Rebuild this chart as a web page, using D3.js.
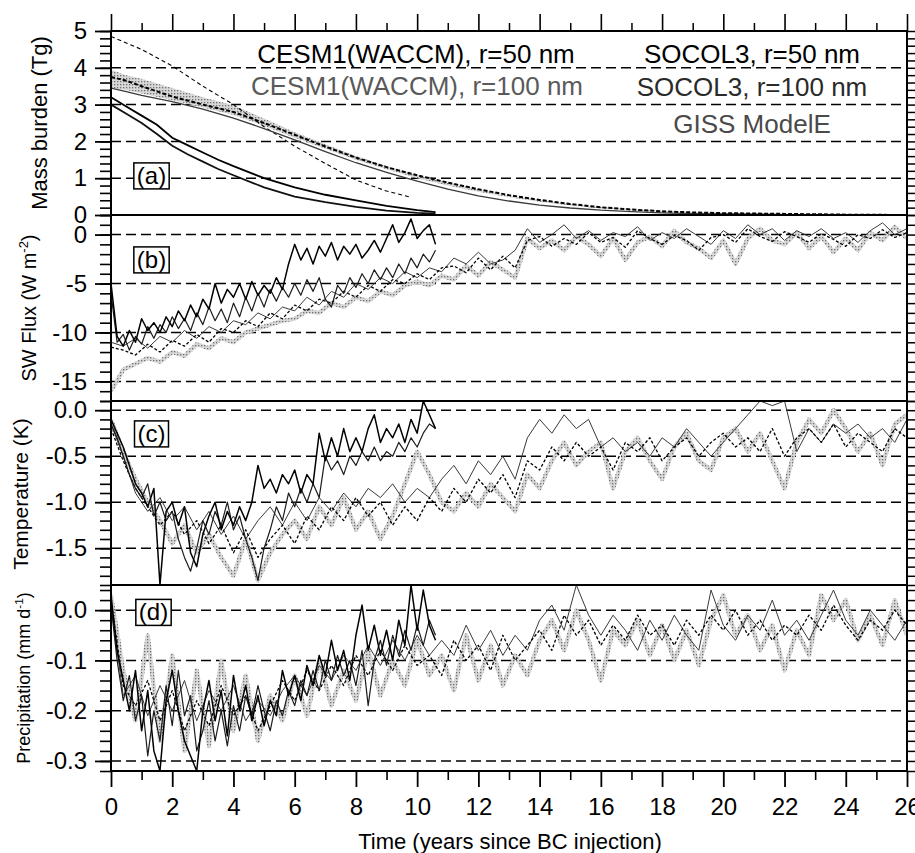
<!DOCTYPE html>
<html>
<head>
<meta charset="utf-8">
<script src="https://cdn.jsdelivr.net/npm/d3@7"></script>
<style>
  body { margin: 0; background: #fff; }
  svg { font-family: "Liberation Sans", Arial, Helvetica, sans-serif; }
</style>
</head>
<body>
<div id="chart"></div>
<script>
// Black-carbon injection: mass burden, SW flux, temperature, precipitation
// for CESM1(WACCM) (short runs, ~10.6 yr), SOCOL3 and GISS ModelE.

// ---- x axis ----
const yearTicks = [0, 2, 4, 6, 8, 10, 12, 14, 16, 18, 20, 22, 24, 26];
const longStep = 0.4;   // years between samples of the 26-yr runs
const shortStep = 0.2;  // years between samples of the CESM1 runs

// ---- (a) mass burden (Tg) ----
const aTimeShort = [0, 0.5, 1, 1.5, 2, 2.5, 3, 3.5, 4, 5, 6, 7, 8, 9, 10, 10.6];
const cesm50A  = [3.2, 2.95, 2.7, 2.45, 2.1, 1.9, 1.7, 1.5, 1.33, 1.0, 0.75, 0.55, 0.4, 0.25, 0.13, 0.08];
const cesm100A = [3.0, 2.75, 2.5, 2.2, 1.88, 1.65, 1.45, 1.25, 1.08, 0.75, 0.5, 0.35, 0.22, 0.12, 0.06, 0.04];
const aTimeThin = [0, 1, 2, 3, 4, 5, 6, 7, 8, 9, 9.8];
const gissMassA = [4.85, 4.5, 4.05, 3.5, 3.0, 2.4, 1.87, 1.4, 0.95, 0.65, 0.48];
const aTimeLong = [0, 0.5, 1, 2, 3, 4, 5, 6, 7, 8, 9, 10, 11, 12, 13, 14, 15, 16, 17, 18, 19, 20, 22, 24, 26];
const socol50A  = [3.75, 3.65, 3.5, 3.22, 3.0, 2.8, 2.5, 2.18, 1.86, 1.56, 1.3, 1.08, 0.88, 0.7, 0.54, 0.41, 0.3, 0.21, 0.15, 0.1, 0.07, 0.05, 0.03, 0.01, 0.0];
const socol100A = [3.45, 3.35, 3.25, 3.08, 2.88, 2.63, 2.35, 2.04, 1.72, 1.42, 1.16, 0.92, 0.7, 0.52, 0.38, 0.27, 0.19, 0.13, 0.09, 0.06, 0.04, 0.03, 0.01, 0.0, 0.0];
const spreadHiA = [3.95, 3.8, 3.7, 3.45, 3.2, 2.98, 2.62, 2.25, 1.92, 1.6, 1.33, 1.08, 0.88, 0.7, 0.54, 0.41, 0.3, 0.22, 0.16, 0.11, 0.08, 0.06, 0.03, 0.02, 0.01];
const spreadLoA = [3.45, 3.4, 3.3, 3.12, 2.92, 2.72, 2.42, 2.1, 1.8, 1.5, 1.24, 1.0, 0.8, 0.63, 0.48, 0.36, 0.26, 0.18, 0.13, 0.09, 0.06, 0.04, 0.02, 0.01, 0.0];

// ---- (b) SW flux (W m-2) ----
const socol50B = [-11.5, -11.8, -12.3, -11.2, -12.0, -10.8, -11.4, -10.2, -11.0, -9.6,
  -10.0, -8.8, -9.4, -8.0, -8.6, -7.2, -7.8, -6.6, -7.0, -5.8,
  -6.4, -5.2, -5.8, -4.6, -5.0, -4.0, -4.6, -3.4, -3.2, -3.9,
  -2.4, -3.6, -2.2, -3.4, -0.6, -0.2, -1.2, -0.4, -1.0, 0.2,
  -0.8, -0.3, -1.3, 0.4, -0.4, -1.0, -0.1, -0.6, -1.6, -0.3,
  0.0, -0.8, 0.6, -0.2, -0.7, 0.3, -0.2, -0.8, 0.1, -0.5,
  -1.2, 0.0, -0.4, 0.5, -0.3, 0.2];
const gissB = [-16.0, -13.8, -13.2, -12.6, -13.0, -12.0, -12.4, -11.2, -11.6, -10.6,
  -11.0, -10.0, -9.6, -9.2, -8.8, -8.6, -7.8, -8.0, -7.0, -7.4,
  -6.4, -6.8, -5.8, -6.2, -5.2, -4.8, -5.2, -4.2, -4.6, -3.2,
  -4.2, -2.8, -3.6, -4.4, -0.4, -1.4, -0.6, -1.6, -0.2, -1.0,
  -2.2, -0.4, -2.6, -0.8, -0.2, -1.2, 0.4, -0.8, -1.4, -2.4,
  -0.6, -3.0, -0.4, 0.6, -0.6, -1.0, 0.2, -1.4, -0.2, -1.8,
  -0.4, -1.6, 0.2, -0.6, 0.8, -0.4];
const socol100B = [-11.0, -11.4, -10.6, -11.6, -10.4, -11.0, -9.8, -10.6, -9.4, -10.0,
  -8.8, -9.2, -8.0, -8.6, -7.4, -7.8, -6.4, -7.2, -5.8, -6.4,
  -5.0, -5.6, -4.4, -5.0, -3.8, -4.4, -3.4, -3.8, -2.4, -3.0,
  -1.8, -3.0, -2.6, -1.6, 0.6, -0.8, 0.0, 1.0, -0.4, 0.4,
  -0.6, 0.2, -0.2, 0.8, -0.6, 0.2, -0.4, 0.6, -0.2, -1.0,
  0.4, -0.4, 1.0, 0.0, 0.6, -0.6, 0.4, -0.2, 0.6, -0.4,
  0.2, -0.8, 0.4, 1.2, 0.0, 0.6];
const cesm50B = [-5.0, -10.4, -11.4, -9.8, -11.0, -8.6, -9.8, -9.0, -10.0, -8.4,
  -9.4, -7.8, -8.8, -7.2, -8.4, -6.6, -7.6, -5.0, -7.0, -5.6,
  -6.4, -5.0, -6.6, -4.8, -6.2, -5.2, -6.0, -4.4, -5.6, -3.0,
  -1.0, -2.6, -1.4, -3.0, -1.2, -2.2, -0.8, -2.6, -1.2, -2.0,
  -1.0, -2.4, -1.6, -0.6, -1.8, -0.4, 1.0, -0.8, 0.2, 1.6,
  -0.4, 0.4, 1.0, -1.0];
const cesm100B = [-6.0, -11.0, -10.2, -11.8, -10.4, -11.2, -9.4, -10.6, -9.2, -10.0,
  -8.4, -9.6, -8.6, -9.8, -8.0, -9.2, -7.4, -8.8, -7.6, -9.0,
  -7.0, -8.4, -6.4, -7.8, -6.0, -7.4, -5.6, -6.8, -5.4, -6.4,
  -5.0, -6.2, -4.6, -5.8, -4.4, -6.6, -7.4, -5.2, -6.0, -4.4,
  -5.4, -4.0, -5.0, -3.6, -4.6, -3.4, -4.4, -3.0, -4.0, -2.4,
  -3.4, -2.0, -2.8, -1.6];

// ---- (c) temperature (K) ----
const socol50C = [-0.20, -0.55, -0.85, -1.05, -1.25, -1.10, -1.35, -1.20, -1.45, -1.25,
  -1.55, -1.30, -1.60, -1.40, -1.25, -1.45, -1.15, -1.30, -1.05, -1.20,
  -0.95, -1.15, -1.00, -1.25, -1.05, -1.20, -0.95, -1.10, -0.85, -1.00,
  -0.75, -0.90, -0.70, -0.95, -0.55, -0.65, -0.40, -0.55, -0.35, -0.50,
  -0.40, -0.65, -0.35, -0.45, -0.30, -0.55, -0.40, -0.30, -0.50, -0.35,
  -0.25, -0.40, -0.30, -0.45, -0.20, -0.50, -0.30, -0.20, -0.35, -0.15,
  -0.40, -0.25, -0.35, -0.45, -0.20, -0.30];
const gissC = [-0.10, -0.45, -0.75, -1.00, -1.20, -1.45, -1.25, -1.55, -1.35, -1.60,
  -1.80, -1.40, -1.85, -1.55, -1.35, -1.20, -1.40, -1.05, -1.25, -0.95,
  -1.30, -1.10, -1.40, -1.15, -0.80, -0.45, -0.70, -1.00, -1.10, -0.90,
  -1.05, -0.80, -0.95, -1.10, -0.70, -0.85, -0.55, -0.35, -0.60, -0.45,
  -0.35, -0.85, -0.45, -0.30, -0.55, -0.75, -0.40, -0.25, -0.55, -0.65,
  -0.30, -0.20, -0.45, -0.25, -0.55, -0.85, -0.35, -0.10, -0.25, 0.00,
  -0.20, -0.45, -0.25, -0.60, -0.15, -0.05];
const socol100C = [-0.15, -0.50, -0.90, -1.10, -0.95, -1.20, -1.05, -1.30, -1.10, -1.35,
  -1.15, -1.40, -1.20, -1.05, -1.25, -1.00, -1.20, -0.95, -1.10, -0.90,
  -1.05, -0.85, -0.95, -0.80, -1.00, -0.85, -0.95, -0.75, -0.60, -0.80,
  -0.55, -0.70, -0.50, -0.75, -0.30, -0.10, -0.25, -0.05, -0.20, -0.10,
  -0.40, -0.30, -0.45, -0.35, -0.50, -0.30, -0.40, -0.20, -0.35, -0.50,
  -0.35, -0.20, -0.05, 0.10, 0.05, 0.10, -0.45, -0.20, -0.35, -0.15,
  -0.25, -0.15, -0.30, -0.20, -0.35, -0.10];
const cesm50C = [-0.10, -0.25, -0.40, -0.60, -0.80, -0.90, -1.05, -0.85, -1.90, -1.10,
  -1.00, -1.25, -1.05, -1.55, -1.70, -1.35, -1.15, -1.00, -1.30, -1.10,
  -1.25, -1.05, -1.20, -1.00, -0.60, -0.85, -0.75, -0.90, -0.70, -0.80,
  -0.65, -0.90, -0.70, -0.80, -0.25, -0.55, -0.30, -0.50, -0.20, -0.45,
  -0.30, -0.45, -0.20, -0.05, -0.35, -0.20, -0.30, -0.15, -0.35, -0.10,
  -0.25, 0.10, -0.05, -0.20];
const cesm100C = [-0.15, -0.30, -0.50, -0.70, -0.85, -0.95, -0.80, -1.15, -1.00, -1.20,
  -1.10, -1.40, -1.60, -1.75, -1.50, -1.20, -1.35, -1.10, -1.25, -1.00,
  -1.30, -1.15, -1.40, -1.60, -1.85, -1.50, -1.30, -1.05, -1.20, -0.90,
  -1.05, -0.85, -1.00, -0.80, -0.95, -0.50, -0.65, -0.55, -0.70, -0.50,
  -0.60, -0.45, -0.55, -0.40, -0.55, -0.45, -0.50, -0.35, -0.45, -0.30,
  -0.40, -0.25, -0.15, -0.20];

// ---- (d) precipitation (mm d-1) ----
const socol50D = [0.02, -0.15, -0.19, -0.14, -0.22, -0.16, -0.24, -0.18, -0.23, -0.15,
  -0.21, -0.17, -0.24, -0.19, -0.14, -0.18, -0.12, -0.16, -0.11, -0.15,
  -0.09, -0.13, -0.08, -0.12, -0.07, -0.11, -0.09, -0.13, -0.06, -0.10,
  -0.07, -0.12, -0.05, -0.10, -0.07, -0.04, -0.08, -0.01, -0.05, -0.02,
  -0.07, -0.03, -0.06, -0.01, -0.05, -0.03, -0.07, -0.02, -0.05, -0.01,
  -0.04, 0.00, -0.05, -0.02, -0.06, -0.03, -0.05, -0.01, -0.04, 0.01,
  -0.03, -0.06, -0.02, -0.04, 0.00, -0.03];
const gissD = [0.03, -0.12, -0.22, -0.05, -0.26, -0.09, -0.28, -0.12, -0.27, -0.10,
  -0.24, -0.13, -0.26, -0.17, -0.22, -0.13, -0.21, -0.10, -0.19, -0.12,
  -0.18, -0.08, -0.17, -0.10, -0.15, -0.06, -0.13, -0.09, -0.16, -0.05,
  -0.14, -0.07, -0.15, -0.09, -0.13, -0.06, -0.02, -0.08, 0.00, -0.06,
  -0.14, -0.04, -0.07, -0.02, -0.09, -0.03, -0.10, -0.04, -0.11, -0.02,
  0.03, -0.05, -0.01, -0.08, -0.03, -0.12, -0.04, -0.09, 0.03, -0.02,
  0.02, -0.06, -0.01, -0.07, 0.02, -0.05];
const socol100D = [0.01, -0.17, -0.13, -0.21, -0.15, -0.20, -0.14, -0.22, -0.16, -0.20,
  -0.15, -0.22, -0.18, -0.21, -0.16, -0.13, -0.17, -0.11, -0.14, -0.09,
  -0.12, -0.07, -0.11, -0.06, -0.10, -0.05, -0.09, -0.06, -0.09, -0.03,
  -0.08, -0.04, -0.09, -0.05, -0.08, -0.02, 0.01, -0.04, 0.05, -0.01,
  -0.05, -0.01, -0.04, -0.08, -0.02, -0.06, -0.01, -0.05, -0.08, 0.04,
  -0.03, -0.06, -0.01, -0.04, 0.02, -0.05, -0.02, -0.06, -0.01, 0.04,
  -0.02, -0.05, 0.00, -0.03, -0.06, -0.02];
const cesm50D = [0.03, -0.08, -0.14, -0.20, -0.12, -0.24, -0.16, -0.28, -0.32, -0.18,
  -0.12, -0.20, -0.26, -0.29, -0.32, -0.20, -0.14, -0.22, -0.16, -0.25,
  -0.13, -0.20, -0.15, -0.22, -0.17, -0.23, -0.18, -0.21, -0.12, -0.17,
  -0.13, -0.18, -0.11, -0.15, -0.09, -0.13, -0.06, -0.12, -0.08, -0.14,
  -0.05, 0.01, -0.08, -0.03, -0.09, -0.04, -0.10, -0.02, -0.07, 0.05,
  -0.04, 0.04, -0.03, -0.06];
const cesm100D = [0.01, -0.10, -0.18, -0.13, -0.22, -0.17, -0.29, -0.20, -0.26, -0.15,
  -0.23, -0.12, -0.21, -0.17, -0.28, -0.24, -0.18, -0.26, -0.20, -0.27,
  -0.19, -0.24, -0.17, -0.21, -0.15, -0.20, -0.24, -0.18, -0.21, -0.16,
  -0.19, -0.14, -0.17, -0.12, -0.16, -0.10, -0.14, -0.09, -0.13, -0.10,
  -0.15, -0.08, -0.19, -0.10, -0.06, -0.11, -0.05, -0.09, -0.04, -0.08,
  -0.03, -0.07, -0.02, -0.05];

// ---- legend / tick labels ----
const legendLeft = ['CESM1(WACCM), r=50 nm', 'CESM1(WACCM), r=100 nm'];
const legendRight = ['SOCOL3, r=50 nm', 'SOCOL3, r=100 nm', 'GISS ModelE'];
const massTicks = [0, 1, 2, 3, 4, 5];
const swTicks = [0, -5, -10, -15];
const tempTicks = [0, -0.5, -1.0, -1.5];
const precTicks = [0, -0.1, -0.2, -0.3];

// ---------------------------------------------------------------
const W = 915, H = 853;
const L = 111, R = 907, TOP = 31, BOT = 771;

const svg = d3.select('#chart').append('svg').attr('width', W).attr('height', H);
const defs = svg.append('defs');
const pat = defs.append('pattern').attr('id', 'stip')
  .attr('width', 3).attr('height', 3).attr('patternUnits', 'userSpaceOnUse');
pat.append('rect').attr('width', 3).attr('height', 3).attr('fill', '#d8d8d8');
pat.append('rect').attr('width', 1.3).attr('height', 1.3).attr('fill', '#707070');

const x = d3.scaleLinear().domain([0, 26]).range([L, R]);

const STY = {
  giss:     { stroke: 'url(#stip)', width: 4.2, dash: null },
  socol100: { stroke: '#3a3a3a', width: 1.0, dash: null },
  socol50:  { stroke: '#000', width: 1.3, dash: '3,2' },
  cesm100:  { stroke: '#1c1c1c', width: 1.2, dash: null },
  cesm50:   { stroke: '#000', width: 1.5, dash: null },
};

const panels = [
  { id: 'a', y: d3.scaleLinear().domain([0, 5]).range([215, TOP]), ticks: massTicks,
    minor: 0.2, fmt: d3.format('d'), grid: [1, 2, 3, 4], box: [151.5, 175.5] },
  { id: 'b', y: d3.scaleLinear().domain([-17, 2]).range([401, 215]), ticks: swTicks,
    minor: 1, fmt: d3.format('d'), grid: swTicks, box: [151.5, 259.5],
    series: [['giss', gissB], ['socol100', socol100B], ['socol50', socol50B], ['cesm100', cesm100B], ['cesm50', cesm50B]] },
  { id: 'c', y: d3.scaleLinear().domain([-1.9, 0.1]).range([585, 401]), ticks: tempTicks,
    minor: 0.1, fmt: d3.format('.1f'), grid: tempTicks, box: [151.5, 433.5],
    series: [['giss', gissC], ['socol100', socol100C], ['socol50', socol50C], ['cesm100', cesm100C], ['cesm50', cesm50C]] },
  { id: 'd', y: d3.scaleLinear().domain([-0.32, 0.05]).range([771, 585]), ticks: precTicks,
    minor: 0.02, fmt: d3.format('.1f'), grid: precTicks, box: [153.5, 612] },
];
panels[3].series = [['giss', gissD], ['socol100', socol100D], ['socol50', socol50D], ['cesm100', cesm100D], ['cesm50', cesm50D]];

const fmtMinus = f => v => f(v).replace('−', '-');

panels.forEach(p => {
  const [d0, d1] = p.y.domain();
  const clipId = 'clip-' + p.id;
  defs.append('clipPath').attr('id', clipId).append('rect')
    .attr('x', L).attr('y', p.y(d1)).attr('width', R - L).attr('height', p.y(d0) - p.y(d1));

  // dashed grid
  svg.append('g').selectAll('line').data(p.grid).join('line')
    .attr('x1', L).attr('x2', R).attr('y1', d => p.y(d)).attr('y2', d => p.y(d))
    .attr('stroke', '#000').attr('stroke-width', 1.5).attr('stroke-dasharray', '10,5');

  const minors = d3.range(Math.ceil(d0 / p.minor - 1e-6), Math.floor(d1 / p.minor + 1e-6) + 1)
    .map(k => +(k * p.minor).toFixed(4));

  // left axis: major + minor, outward
  const gl = svg.append('g').attr('transform', `translate(${L},0)`);
  gl.call(d3.axisLeft(p.y).tickValues(minors).tickSize(11).tickFormat(''));
  gl.select('.domain').remove();
  const gl2 = svg.append('g').attr('transform', `translate(${L},0)`);
  gl2.call(d3.axisLeft(p.y).tickValues(p.ticks).tickSize(16).tickPadding(8).tickFormat(fmtMinus(p.fmt)));
  gl2.select('.domain').remove();
  gl2.selectAll('text').attr('font-size', 24).attr('font-family', null).attr('fill', '#000');
  gl.selectAll('line').attr('stroke-width', 1.6);
  gl2.selectAll('line').attr('stroke-width', 1.8);

  // right axis ticks, outward
  const gr = svg.append('g').attr('transform', `translate(${R},0)`);
  gr.call(d3.axisRight(p.y).tickValues(minors).tickSize(8).tickFormat(''));
  gr.select('.domain').remove();
  gr.selectAll('line').attr('stroke-width', 1.5);

  // series
  const g = svg.append('g').attr('clip-path', `url(#${clipId})`);
  if (p.series) {
    p.series.forEach(([key, vals]) => {
      const st = STY[key];
      const step = key.startsWith('cesm') ? shortStep : longStep;
      const line = d3.line().x((d, i) => x(i * step)).y(d => p.y(d));
      g.append('path').datum(vals).attr('d', line)
        .attr('fill', 'none').attr('stroke', st.stroke).attr('stroke-width', st.width)
        .attr('stroke-dasharray', st.dash).attr('stroke-linejoin', 'round');
    });
  } else {
    const y = p.y;
    const band = d3.area().x((d, i) => x(aTimeLong[i]))
      .y0((d, i) => y(spreadLoA[i])).y1(d => y(d));
    g.append('path').datum(spreadHiA).attr('d', band).attr('fill', 'url(#stip)');
    const lineT = t => d3.line().x((d, i) => x(t[i])).y(d => y(d));
    g.append('path').datum(gissMassA).attr('d', lineT(aTimeThin))
      .attr('fill', 'none').attr('stroke', '#000').attr('stroke-width', 1.1).attr('stroke-dasharray', '4,3');
    g.append('path').datum(socol100A).attr('d', lineT(aTimeLong))
      .attr('fill', 'none').attr('stroke', '#3a3a3a').attr('stroke-width', 1.3);
    g.append('path').datum(socol50A).attr('d', lineT(aTimeLong))
      .attr('fill', 'none').attr('stroke', '#000').attr('stroke-width', 2).attr('stroke-dasharray', '4,2');
    g.append('path').datum(cesm100A).attr('d', lineT(aTimeShort))
      .attr('fill', 'none').attr('stroke', '#111').attr('stroke-width', 1.8);
    g.append('path').datum(cesm50A).attr('d', lineT(aTimeShort))
      .attr('fill', 'none').attr('stroke', '#000').attr('stroke-width', 1.8);
  }

  // panel label box
  const lab = svg.append('text').attr('x', p.box[0]).attr('y', p.box[1]).attr('dy', '0.35em')
    .attr('text-anchor', 'middle').attr('font-size', 24).text(`(${p.id})`);
  const bb = lab.node().getBBox();
  svg.insert('rect', () => lab.node())
    .attr('x', bb.x - 3).attr('y', bb.y + 1).attr('width', bb.width + 6).attr('height', bb.height - 1)
    .attr('fill', '#fff').attr('stroke', '#000').attr('stroke-width', 1.5);
});

// frame and panel separators
svg.append('rect').attr('x', L).attr('y', TOP).attr('width', R - L).attr('height', BOT - TOP)
  .attr('fill', 'none').attr('stroke', '#000').attr('stroke-width', 2);
svg.append('g').selectAll('line').data([panels[0].y(0), panels[1].y(-17), panels[2].y(-1.9)]).join('line')
  .attr('x1', L).attr('x2', R).attr('y1', d => d).attr('y2', d => d)
  .attr('stroke', '#000').attr('stroke-width', 2);

// x axes (bottom labelled, top ticks only)
const oddYears = d3.range(1, 27, 2);
const gb = svg.append('g').attr('transform', `translate(0,${BOT})`);
gb.call(d3.axisBottom(x).tickValues(yearTicks).tickSize(16).tickPadding(11).tickFormat(d3.format('d')));
gb.select('.domain').remove();
gb.selectAll('text').attr('font-size', 24).attr('font-family', null);
gb.selectAll('line').attr('stroke-width', 1.8);
const gb2 = svg.append('g').attr('transform', `translate(0,${BOT})`);
gb2.call(d3.axisBottom(x).tickValues(oddYears).tickSize(9).tickFormat(''));
gb2.select('.domain').remove();
gb2.selectAll('line').attr('stroke-width', 1.6);

const gt = svg.append('g').attr('transform', `translate(0,${TOP})`);
gt.call(d3.axisTop(x).tickValues(yearTicks).tickSize(17).tickFormat(''));
gt.select('.domain').remove();
gt.selectAll('line').attr('stroke-width', 1.6);
const gt2 = svg.append('g').attr('transform', `translate(0,${TOP})`);
gt2.call(d3.axisTop(x).tickValues(oddYears).tickSize(8).tickFormat(''));
gt2.select('.domain').remove();
gt2.selectAll('line').attr('stroke-width', 1.5);

svg.append('text').attr('x', 510).attr('y', 849).attr('text-anchor', 'middle')
  .attr('font-size', 22).text('Time (years since BC injection)');

// y-axis titles
function yTitle(xPos, yMid, size, main, sup) {
  const t = svg.append('text').attr('transform', `translate(${xPos},${yMid}) rotate(-90)`)
    .attr('text-anchor', 'middle').attr('font-size', size);
  t.append('tspan').text(main);
  if (sup) {
    t.append('tspan').attr('font-size', size * 0.65).attr('dy', -size * 0.4).text(sup);
    t.append('tspan').attr('dy', size * 0.4).text(')');
  }
  return t;
}
yTitle(47, 123, 22, 'Mass burden (Tg)');
yTitle(36, 308, 20, 'SW Flux (W m', '-2');
yTitle(28, 494, 21, 'Temperature (K)');
yTitle(30, 678, 18, 'Precipitation (mm d', '-1');

// legend
const legL = [[416, 63, '#000'], [417, 95, '#5a5a5a']];
legendLeft.forEach((s, i) => svg.append('text').attr('x', legL[i][0]).attr('y', legL[i][1])
  .attr('text-anchor', 'middle').attr('font-size', 26).attr('fill', legL[i][2]).text(s));
const legR = [[752, 63, '#000'], [752, 96, '#2a2a2a'], [752, 133, '#4a4a4a']];
legendRight.forEach((s, i) => svg.append('text').attr('x', legR[i][0]).attr('y', legR[i][1])
  .attr('text-anchor', 'middle').attr('font-size', 26).attr('fill', legR[i][2]).text(s));
</script>
</body>
</html>
